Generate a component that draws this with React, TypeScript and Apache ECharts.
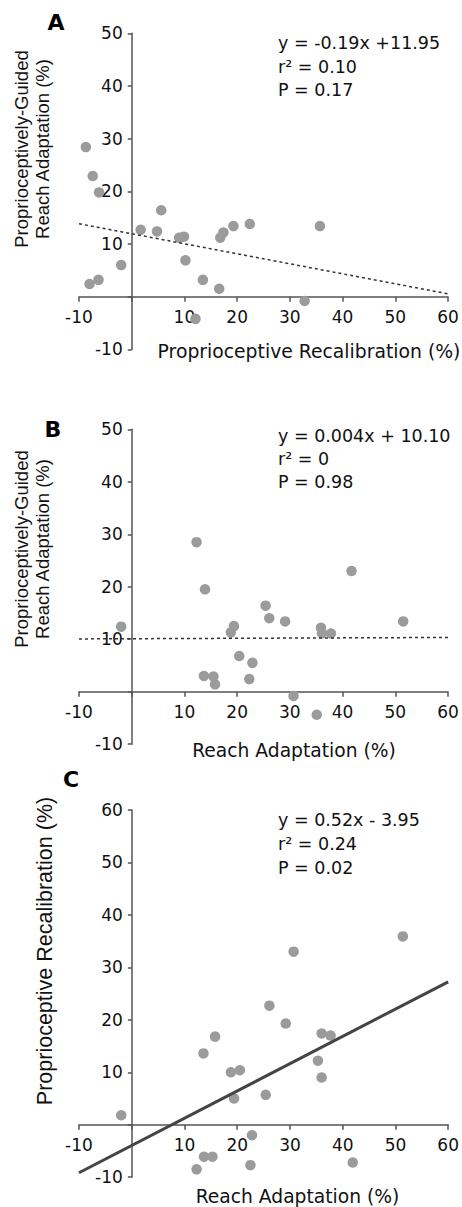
import React, { useEffect, useRef } from 'react';
import * as echarts from 'echarts';

// ---------- Data ----------
// Panel A: Proprioceptive Recalibration (x) vs Proprioceptively-Guided Reach Adaptation (y)
const panelAX = [-8.7, -7.4, -6.2, 5.6, 1.7, 4.8, 9.0, 9.9, 17.4, 16.8, 19.3, 22.4, 35.7, -2.0, -8.0, -6.3, 10.2, 13.5, 16.6, 32.8, 12.1];
const panelAY = [28.4, 22.9, 19.8, 16.4, 12.7, 12.4, 11.2, 11.4, 12.2, 11.2, 13.4, 13.8, 13.4, 6.0, 2.4, 3.2, 6.9, 3.2, 1.5, -0.8, -4.2];

// Panel B: Reach Adaptation (x) vs Proprioceptively-Guided Reach Adaptation (y)
const panelBX = [12.3, 13.9, 41.7, 25.4, 26.1, 29.1, 51.5, -2.0, 19.4, 18.8, 35.9, 36.1, 37.8, 20.4, 22.9, 13.7, 15.5, 15.8, 22.3, 30.7, 35.1];
const panelBY = [28.5, 19.5, 23.0, 16.4, 14.0, 13.4, 13.4, 12.4, 12.5, 11.3, 12.2, 11.1, 11.1, 6.8, 5.5, 3.0, 2.9, 1.4, 2.4, -0.8, -4.4];

// Panel C: Reach Adaptation (x) vs Proprioceptive Recalibration (y)
const panelCX = [30.7, 51.4, 26.1, 29.2, 36.0, 37.7, 15.8, 13.6, 35.3, 18.8, 20.5, 36.0, 25.4, 19.4, -2.0, 22.8, 13.7, 15.3, 12.3, 22.5, 41.9];
const panelCY = [33.0, 35.9, 22.7, 19.3, 17.4, 17.0, 16.8, 13.6, 12.2, 10.0, 10.4, 9.0, 5.7, 5.0, 1.8, -2.0, -6.1, -6.1, -8.5, -7.7, -7.2];

// Regression fits [slope, intercept]
const fitA = [-0.19, 11.95];
const fitB = [0.004, 10.10];
const fitC = [0.52, -3.95];
const fitRange = [-10, 60];

// Axis ranges / ticks
const xTicks = [-10, 0, 10, 20, 30, 40, 50, 60];
const yTicksAB = [-10, 0, 10, 20, 30, 40, 50];
const yTicksC = [-10, 0, 10, 20, 30, 40, 50, 60];

// Texts
const panelLetters = ['A', 'B', 'C'];
const eqA = ['y = -0.19x +11.95', 'r\u00B2 = 0.10', 'P = 0.17'];
const eqB = ['y = 0.004x + 10.10', 'r\u00B2 = 0', 'P = 0.98'];
const eqC = ['y = 0.52x - 3.95', 'r\u00B2 = 0.24', 'P = 0.02'];
const xNameA = 'Proprioceptive Recalibration (%)';
const xNameBC = 'Reach Adaptation (%)';
const yNameAB = 'Proprioceptively-Guided\nReach Adaptation (%)';
const yNameC = 'Proprioceptive Recalibration (%)';

const FONT = 'DejaVu Sans';
const RFONT = 'Liberation Sans';
const AXIS_COLOR = '#555555';
const DOT_COLOR = '#9b9b9b';
const TEXT_COLOR = '#111111';

function pts(xs: number[], ys: number[]) {
  return xs.map((x, i) => [x, ys[i]]);
}
function fitLine(f: number[]) {
  return fitRange.map((x) => [x, f[0] * x + f[1]]);
}

export default function App() {
  const ref = useRef<HTMLDivElement>(null);

  useEffect(() => {
    if (!ref.current) return;
    const chart = echarts.init(ref.current, undefined, { renderer: 'svg' });

    const grids = [
      { left: 79, top: 33.3, width: 369, height: 316.1 },
      { left: 79, top: 429.3, width: 369, height: 314.9 },
      { left: 79, top: 810, width: 370, height: 367.2 },
    ];
    const yTickSets = [yTicksAB, yTicksAB, yTicksC];

    const labelFmt = (v: number) => (v === 0 ? '' : String(v));

    const xMin = xTicks[0];
    const xMax = xTicks[xTicks.length - 1];

    const xAxes = grids.map((g, i) => {
      const yMin = yTickSets[i][0];
      const yMax = yTickSets[i][yTickSets[i].length - 1];
      // shift the axis (line, ticks and labels) up to y = 0
      const off = -(g.height * (0 - yMin)) / (yMax - yMin);
      return {
        type: 'value',
        gridIndex: i,
        position: 'bottom',
        offset: off,
        min: xMin,
        max: xMax,
        interval: 10,
        axisLine: { show: true, onZero: false, lineStyle: { color: AXIS_COLOR, width: 1.5 } },
        axisTick: { show: true, length: 5, lineStyle: { color: AXIS_COLOR, width: 1.5 } },
        axisLabel: { formatter: labelFmt, fontSize: 17, fontFamily: FONT, color: TEXT_COLOR, margin: 12 },
        splitLine: { show: false },
      };
    });
    const yAxes = grids.map((g, i) => {
      const off = -(g.width * (0 - xMin)) / (xMax - xMin);
      return {
        type: 'value',
        gridIndex: i,
        position: 'left',
        offset: off,
        min: yTickSets[i][0],
        max: yTickSets[i][yTickSets[i].length - 1],
        interval: 10,
        axisLine: { show: true, onZero: false, lineStyle: { color: AXIS_COLOR, width: 1.5 } },
        axisTick: { show: true, length: 4, lineStyle: { color: AXIS_COLOR, width: 1.5 } },
        axisLabel: { formatter: labelFmt, fontSize: 17, fontFamily: FONT, color: TEXT_COLOR, margin: 9 },
        splitLine: { show: false },
      };
    });

    const scatter = (i: number, data: number[][]) => ({
      type: 'scatter',
      xAxisIndex: i,
      yAxisIndex: i,
      data,
      symbolSize: 10.5,
      itemStyle: { color: DOT_COLOR, opacity: 1 },
      z: 2,
    });
    const line = (i: number, f: number[], style: any) => ({
      type: 'line',
      xAxisIndex: i,
      yAxisIndex: i,
      data: fitLine(f),
      symbol: 'none',
      lineStyle: style,
      z: 3,
    });

    const txt = (text: string, x: number, y: number, opts: any = {}) => ({
      type: 'text',
      x,
      y,
      rotation: opts.rotation || 0,
      style: {
        text,
        x: 0,
        y: 0,
        fill: opts.fill || TEXT_COLOR,
        fontSize: opts.fontSize || 17,
        fontFamily: opts.fontFamily || FONT,
        fontWeight: opts.fontWeight || 'normal',
        align: opts.align || 'left',
        textAlign: opts.align || 'left',
        verticalAlign: 'middle',
        textVerticalAlign: 'middle',
        lineHeight: opts.lineHeight,
      },
    });

    const letterOpts = { fontSize: 22, fontWeight: 'bold', align: 'center', fill: '#000000' };
    const graphic = [
      txt(panelLetters[0], 56, 22, letterOpts),
      txt(panelLetters[1], 53, 429, letterOpts),
      txt(panelLetters[2], 71, 779, letterOpts),
      txt(eqA.join('\n'), 278, 66.7, { fontSize: 17.5, lineHeight: 23.7 }),
      txt(eqB.join('\n'), 278, 459, { fontSize: 17.5, lineHeight: 23.2 }),
      txt(eqC.join('\n'), 278, 844, { fontSize: 17.5, lineHeight: 23.7 }),
      txt(xNameA, 309, 351, { fontSize: 18.8, align: 'center' }),
      txt(xNameBC, 294, 750, { fontSize: 18.7, align: 'center' }),
      txt(xNameBC, 297.5, 1196, { fontSize: 18.7, align: 'center' }),
      txt(yNameAB, 32, 149, { fontSize: 18.5, fontFamily: RFONT, align: 'center', rotation: Math.PI / 2, lineHeight: 21 }),
      txt(yNameAB, 32, 549, { fontSize: 18.5, fontFamily: RFONT, align: 'center', rotation: Math.PI / 2, lineHeight: 21 }),
      txt(yNameC, 45, 951, { fontSize: 21.5, fontFamily: RFONT, align: 'center', rotation: Math.PI / 2 }),
    ];

    chart.setOption({
      animation: false,
      backgroundColor: '#ffffff',
      grid: grids,
      xAxis: xAxes,
      yAxis: yAxes,
      series: [
        scatter(0, pts(panelAX, panelAY)),
        scatter(1, pts(panelBX, panelBY)),
        scatter(2, pts(panelCX, panelCY)),
        line(0, fitA, { color: '#333333', width: 1.5, type: [3, 3] }),
        line(1, fitB, { color: '#333333', width: 1.5, type: [3, 3] }),
        line(2, fitC, { color: '#444444', width: 3, type: 'solid' }),
      ],
      graphic,
    });

    return () => chart.dispose();
  }, []);

  return (
    <div
      ref={ref}
      style={{ position: 'absolute', left: 0, top: 0, width: 462, height: 1207 }}
    />
  );
}
